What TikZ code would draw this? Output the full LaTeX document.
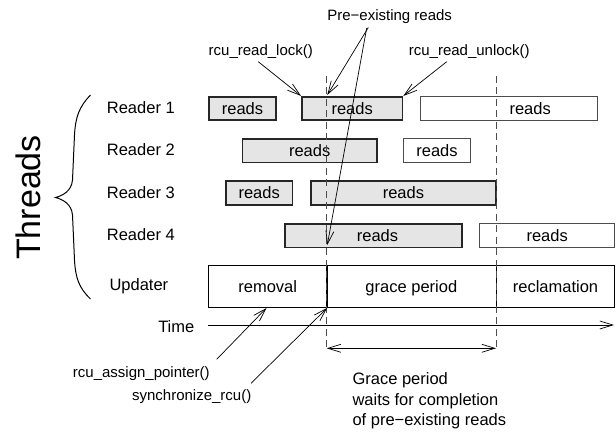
\documentclass[tikz,border=0pt]{standalone}
\usepackage{fontspec}
\setmainfont{Liberation Sans}
\usetikzlibrary{arrows.meta}
\definecolor{boxgray}{RGB}{229,229,229}
\begin{document}
\begin{tikzpicture}[x=1pt,y=-1pt,
  main/.style={font=\fontsize{16.5}{20}\selectfont, inner sep=0pt},
  small/.style={font=\fontsize{15}{18}\selectfont, inner sep=0pt},
  graybox/.style={main, draw=black!85, line width=1.6pt, fill=boxgray, minimum height=23.5pt, text height=12pt, text depth=0pt},
  whitebox/.style={main, draw=black!70, line width=1.1pt, fill=white, minimum height=24pt, text height=12pt, text depth=0pt},
  phase/.style={main, draw=black, line width=0.9pt, minimum height=42pt, text height=12pt, text depth=0pt},
  conn/.style={line width=0.7pt, -{Straight Barb[length=13pt,width=8pt]}},
  dbl/.style={line width=0.7pt, {Straight Barb[length=13pt,width=8pt]}-{Straight Barb[length=13pt,width=8pt]}},
  dashline/.style={line width=1pt, draw=black!70, dash pattern=on 7pt off 4.5pt},
  bracestyle/.style={line width=1pt}
]
\useasboundingbox (0,0) rectangle (616,435);

% Threads label and brace
\node[inner sep=0pt, font=\fontsize{34}{40}\selectfont, rotate=90] (threads) at (28.8,197.5) {Threads};
\draw[bracestyle] (90.5,95) .. controls (79,107) and (75.5,117) .. (74.5,135)
  -- (72.5,180) .. controls (71.5,191) and (63,195.5) .. (55.5,197.5)
  .. controls (63,199.5) and (71.5,204) .. (72.5,215)
  -- (74.5,260) .. controls (75.5,278) and (79,288) .. (90.5,299);

% Row labels
\node[main, anchor=base west] (r1) at (106.7,113.5) {Reader 1};
\node[main, anchor=base west] (r2) at (106.7,156) {Reader 2};
\node[main, anchor=base west] (r3) at (106.7,198.5) {Reader 3};
\node[main, anchor=base west] (r4) at (106.7,241) {Reader 4};
\node[main, anchor=base west] (upd) at (109.3,291) {Updater};

% Reader boxes
\node[graybox, minimum width=67pt] (b1a) at (242.5,108.5) {reads};
\node[graybox, minimum width=100.7pt] (b1b) at (352.2,108.5) {reads};
\node[whitebox, minimum width=177pt] (b1c) at (509.2,108.5) {\hspace*{42pt}reads};
\node[graybox, minimum width=134.4pt] (b2a) at (309.7,150.8) {reads};
\node[whitebox, minimum width=67pt] (b2b) at (437,150.8) {reads};
\node[graybox, minimum width=66.7pt] (b3a) at (259.2,193) {reads};
\node[graybox, minimum width=185pt] (b3b) at (403.4,193) {reads};
\node[graybox, minimum width=176.8pt] (b4a) at (373.5,235.8) {\hspace*{8pt}reads};
\node[whitebox, minimum width=134.6pt] (b4b) at (547.2,235.8) {reads};

% Updater phases
\node[phase, minimum width=118pt] (removal) at (267.7,286.5) {removal};
\node[phase, minimum width=169.3pt] (grace) at (411.35,286.5) {grace period};
\node[phase, minimum width=118.5pt] (reclaim) at (555.5,286.5) {reclamation};
\draw[line width=1.8pt] (removal.north east) -- (removal.south east);

% Dashed grace-period bounds
\coordinate (d1top) at (326.7,76);
\coordinate (d1bot) at (326.7,349);
\coordinate (d2top) at (496,76);
\coordinate (d2bot) at (496,349);
\draw[dashline] (d1top) -- (d1bot);
\draw[dashline] (d2top) -- (d2bot);

% Time axis
\node[main] (time) at (176.3,327) {Time};
\coordinate (tstart) at (208,325);
\coordinate (tend) at (614,325);
\draw[conn] (tstart) -- (tend);

% Grace period span
\coordinate (gl) at (326.7,348.3);
\coordinate (gr) at (496,348.3);
\draw[dbl] (gl) -- (gr);
\node[main, anchor=base west] (gp1) at (352.3,385) {Grace period};
\node[main, anchor=base west] (gp2) at (352.3,405.5) {waits for completion};
\node[main, anchor=base west] (gp3) at (352.3,426) {of pre−existing reads};

% Top labels
\node[small, anchor=base] (pre) at (389.7,20.7) {Pre−existing reads};
\node[small, anchor=base] (lock) at (260.8,56) {rcu\_read\_lock()};
\node[small, anchor=base] (unlock) at (469.3,56) {rcu\_read\_unlock()};
\coordinate (prefrom1) at (368.3,27.5);
\coordinate (prefrom2) at (366.7,28);
\coordinate (pretip1) at (327.3,95);
\coordinate (pretip2) at (327.3,245);
\coordinate (lockfrom) at (258.3,61.7);
\coordinate (unlockfrom) at (446.7,61.7);
\draw[conn] (prefrom1) -- (pretip1);
\draw[conn] (prefrom2) -- (pretip2);
\draw[conn] (lockfrom) -- (b1b.north west);
\draw[conn] (unlockfrom) -- (b1b.north east);

% Bottom labels
\node[small, anchor=base] (assign) at (141.3,377.7) {rcu\_assign\_pointer()};
\node[small, anchor=base] (sync) at (191.7,401) {synchronize\_rcu()};
\coordinate (assignfrom) at (216.7,359.3);
\coordinate (assigntip) at (266.5,308);
\coordinate (syncfrom) at (251,383.3);
\draw[conn] (assignfrom) -- (assigntip);
\draw[conn] (syncfrom) -- (removal.south east);
\end{tikzpicture}
\end{document}
